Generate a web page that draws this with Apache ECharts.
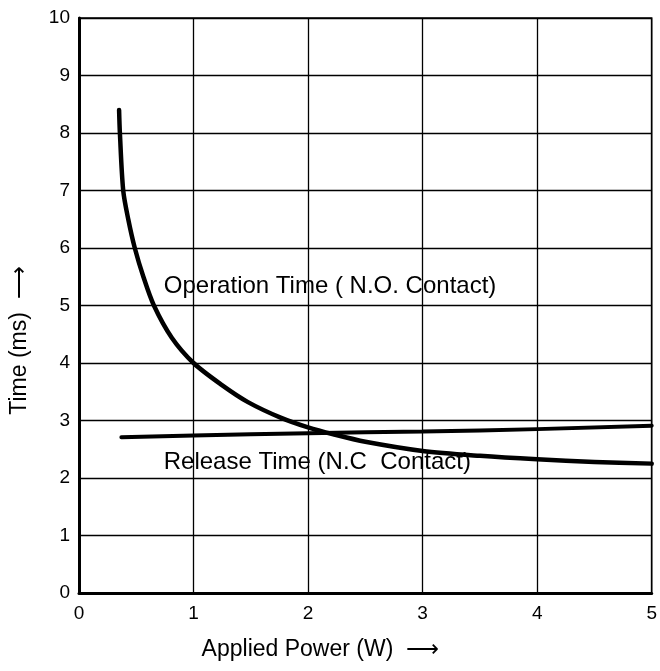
<!DOCTYPE html>
<html>
<head>
<meta charset="utf-8">
<script src="https://cdn.jsdelivr.net/npm/echarts@6/dist/echarts.min.js"></script>
<style>html,body{margin:0;padding:0;background:#fff;}#c{width:660px;height:671px;}</style>
</head>
<body>
<div id="c"></div>
<script>
var xTicks = [0, 1, 2, 3, 4, 5];
var yTicks = [0, 1, 2, 3, 4, 5, 6, 7, 8, 9, 10];
var operationX = [0.35, 0.357, 0.386, 0.43, 0.487, 0.562, 0.654, 0.81, 1.0, 1.245, 1.475, 1.76, 2.0, 2.22, 2.5, 3.0, 3.5, 4.0, 4.5, 5.0];
var operationY = [8.4, 8.0, 7.0, 6.5, 6.0, 5.5, 5.0, 4.44, 4.0, 3.62, 3.32, 3.05, 2.88, 2.76, 2.63, 2.47, 2.385, 2.325, 2.28, 2.25];
var releaseX = [0.37, 1.0, 2.0, 3.0, 4.0, 5.0];
var releaseY = [2.71, 2.74, 2.78, 2.81, 2.85, 2.91];
var operationLabel = 'Operation Time ( N.O. Contact)';
var releaseLabel = 'Release Time (N.C  Contact)';
var operationLabelAt = [0.74, 5.33];
var releaseLabelAt = [0.74, 2.27];

function pairs(xs, ys) { return xs.map(function (x, i) { return [x, ys[i]]; }); }

var font = '"Liberation Sans", Arial, Helvetica, sans-serif';
var chart = echarts.init(document.getElementById('c'), null, {renderer: 'canvas'});
chart.setOption({
  backgroundColor: '#fff',
  animation: false,
  grid: {left: 76, right: 6, top: 18, bottom: 78, show: true, borderColor: '#000', borderWidth: 1.5},
  xAxis: {
    type: 'value', min: 0, max: 5, interval: 1,
    name: 'Applied Power (W)  \u27F6', nameLocation: 'middle', nameGap: 45,
    nameTextStyle: {fontFamily: font, fontSize: 23, color: '#000', padding: [0, 90, 0, 0]},
    axisLine: {show: true, lineStyle: {color: '#000', width: 3}},
    axisTick: {show: false},
    axisLabel: {fontFamily: font, fontSize: 19, color: '#000', margin: 11,
      formatter: function (v) { return xTicks.indexOf(v) >= 0 ? String(v) : ''; }},
    splitLine: {show: true, lineStyle: {color: '#000', width: 1.3}}
  },
  yAxis: {
    type: 'value', min: 0, max: 10, interval: 1,
    name: 'Time (ms)  \u27F6', nameLocation: 'middle', nameGap: 48, nameRotate: 90,
    nameTextStyle: {fontFamily: font, fontSize: 23, color: '#000', padding: [0, 70, 0, 0]},
    axisLine: {show: true, lineStyle: {color: '#000', width: 3}},
    axisTick: {show: false},
    axisLabel: {fontFamily: font, fontSize: 19, color: '#000', margin: 9,
      formatter: function (v) { return yTicks.indexOf(v) >= 0 ? String(v) : ''; }},
    splitLine: {show: true, lineStyle: {color: '#000', width: 1.3}}
  },
  series: [
    {
      name: 'Operation', type: 'line', data: pairs(operationX, operationY),
      smooth: 0.3, showSymbol: false, symbol: 'none',
      lineStyle: {color: '#000', width: 4.5, cap: 'round', join: 'round'},
      markPoint: {
        symbol: 'circle', symbolSize: 0,
        label: {show: true, position: 'inside', align: 'left', formatter: operationLabel,
          fontFamily: font, fontSize: 24, color: '#000'},
        data: [{coord: operationLabelAt}]
      }
    },
    {
      name: 'Release', type: 'line', data: pairs(releaseX, releaseY),
      smooth: true, showSymbol: false, symbol: 'none',
      lineStyle: {color: '#000', width: 4, cap: 'round'},
      markPoint: {
        symbol: 'circle', symbolSize: 0,
        label: {show: true, position: 'inside', align: 'left', formatter: releaseLabel,
          fontFamily: font, fontSize: 24, color: '#000'},
        data: [{coord: releaseLabelAt}]
      }
    }
  ]
});
</script>
</body>
</html>
